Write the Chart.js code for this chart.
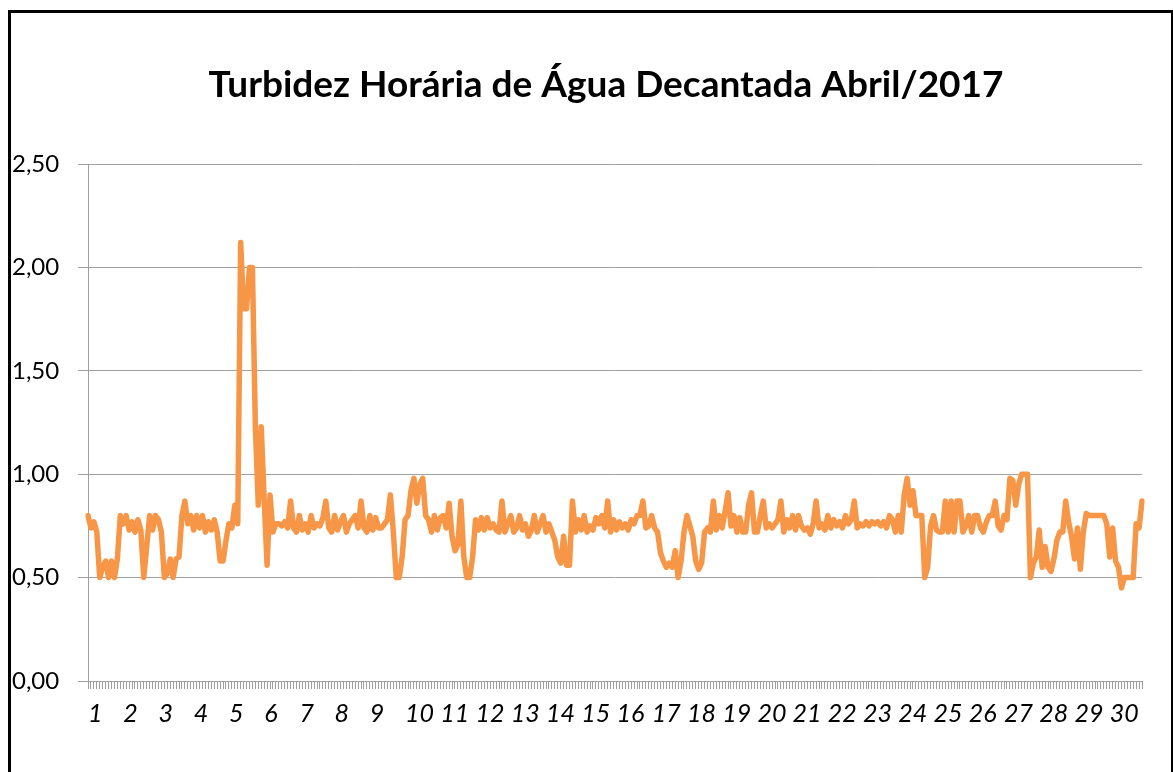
<!DOCTYPE html>
<html>
<head>
<meta charset="utf-8">
<title>Turbidez Horária de Água Decantada</title>
<script src="https://cdn.jsdelivr.net/npm/chart.js"></script>
<style>
html, body { margin: 0; padding: 0; background: #fff; }
#wrap { position: relative; width: 1173px; height: 772px; overflow: hidden; }
#frame { position: absolute; left: 8px; top: 10px; width: 1160px; height: 800px; border: 3px solid #000; pointer-events: none; }
canvas { position: absolute; left: 0; top: 0; }
</style>
</head>
<body>
<div id="wrap">
  <canvas id="chart" width="1173" height="772"></canvas>
  <div id="frame"></div>
</div>
<script>
// turbidez (NTU) a cada 2 horas, 12 leituras por dia
const day1  = [0.80,0.74,0.77,0.72,0.50,0.55,0.58,0.50,0.58,0.50,0.59,0.80];
const day2  = [0.76,0.80,0.73,0.77,0.72,0.78,0.73,0.50,0.65,0.80,0.73,0.80];
const day3  = [0.78,0.72,0.50,0.52,0.59,0.50,0.59,0.60,0.80,0.87,0.76,0.80];
const day4  = [0.73,0.80,0.74,0.80,0.72,0.77,0.73,0.78,0.72,0.58,0.58,0.68];
const day5  = [0.76,0.74,0.85,0.76,2.12,1.80,1.80,2.00,2.00,1.23,0.85,1.23];
const day6  = [0.88,0.56,0.90,0.72,0.76,0.76,0.75,0.77,0.74,0.87,0.74,0.72];
const day7  = [0.80,0.73,0.76,0.72,0.80,0.74,0.76,0.75,0.79,0.87,0.74,0.72];
const day8  = [0.80,0.73,0.77,0.80,0.72,0.76,0.78,0.80,0.74,0.87,0.74,0.72];
const day9  = [0.80,0.73,0.79,0.74,0.74,0.76,0.78,0.90,0.72,0.50,0.50,0.60];
const day10 = [0.78,0.80,0.92,0.98,0.86,0.95,0.98,0.80,0.78,0.72,0.80,0.73];
const day11 = [0.79,0.80,0.74,0.86,0.70,0.63,0.66,0.87,0.60,0.50,0.50,0.60];
const day12 = [0.78,0.73,0.79,0.73,0.79,0.74,0.76,0.73,0.72,0.87,0.72,0.76];
const day13 = [0.80,0.72,0.74,0.80,0.73,0.76,0.70,0.73,0.80,0.72,0.76,0.80];
const day14 = [0.72,0.76,0.72,0.68,0.60,0.57,0.70,0.56,0.56,0.87,0.72,0.78];
const day15 = [0.73,0.80,0.72,0.75,0.73,0.79,0.76,0.80,0.74,0.87,0.72,0.78];
const day16 = [0.73,0.77,0.74,0.76,0.73,0.78,0.76,0.80,0.80,0.87,0.74,0.75];
const day17 = [0.80,0.74,0.72,0.62,0.58,0.55,0.57,0.55,0.63,0.50,0.58,0.72];
const day18 = [0.80,0.75,0.70,0.58,0.54,0.57,0.72,0.74,0.72,0.87,0.73,0.80];
const day19 = [0.74,0.82,0.91,0.75,0.80,0.72,0.79,0.72,0.72,0.85,0.91,0.72];
const day20 = [0.72,0.80,0.87,0.74,0.76,0.74,0.76,0.78,0.87,0.72,0.78,0.74];
const day21 = [0.80,0.73,0.80,0.75,0.73,0.74,0.71,0.76,0.87,0.74,0.76,0.73];
const day22 = [0.80,0.74,0.78,0.75,0.77,0.74,0.80,0.76,0.78,0.87,0.74,0.76];
const day23 = [0.75,0.77,0.75,0.77,0.76,0.77,0.75,0.77,0.74,0.80,0.78,0.72];
const day24 = [0.80,0.72,0.90,0.98,0.85,0.92,0.80,0.80,0.80,0.50,0.55,0.75];
const day25 = [0.80,0.73,0.72,0.72,0.87,0.72,0.87,0.72,0.87,0.87,0.72,0.75];
const day26 = [0.80,0.72,0.80,0.80,0.74,0.72,0.77,0.80,0.80,0.87,0.75,0.73];
const day27 = [0.80,0.78,0.98,0.97,0.85,0.95,1.00,1.00,1.00,0.50,0.57,0.60];
const day28 = [0.73,0.55,0.65,0.55,0.53,0.59,0.68,0.72,0.72,0.87,0.77,0.70];
const day29 = [0.59,0.74,0.54,0.72,0.81,0.80,0.80,0.80,0.80,0.80,0.80,0.76];
const day30 = [0.60,0.74,0.58,0.55,0.45,0.50,0.50,0.50,0.50,0.76,0.74,0.87];

const days = [day1,day2,day3,day4,day5,day6,day7,day8,day9,day10,
              day11,day12,day13,day14,day15,day16,day17,day18,day19,day20,
              day21,day22,day23,day24,day25,day26,day27,day28,day29,day30];
const hours = ['00','02','04','06','08','10','12','14','16','18','20','22'];
const yTicks = [0, 0.5, 1, 1.5, 2, 2.5];
const titleText = 'Turbidez Horária de Água Decantada Abril/2017';

let labels = [];
let values = [];
days.forEach((d, i) => {
  d.forEach((v, h) => {
    labels.push((i + 1) + ' ' + hours[h] + 'h');
    values.push(v);
  });
});

const gridGray = '#a0a0a0';
const fontFamily = 'Lato, "Open Sans", sans-serif';
Chart.defaults.font.family = fontFamily;
Chart.defaults.color = '#000';

// the title sits centred on the whole chart object, which runs past the right edge
const offsetTitle = {
  id: 'offsetTitle',
  afterDraw(chart) {
    const c = chart.ctx;
    c.save();
    c.font = 'bold 37px ' + fontFamily;
    c.fillStyle = '#000';
    c.textAlign = 'center';
    c.textBaseline = 'alphabetic';
    c.fillText(titleText, 606, 97);
    c.restore();
  }
};

new Chart(document.getElementById('chart'), {
  type: 'line',
  data: {
    labels: labels,
    datasets: [{
      label: 'Turbidez',
      data: values,
      borderColor: '#F79646',
      borderWidth: 5.5,
      pointRadius: 0,
      tension: 0,
      borderJoinStyle: 'round',
      borderCapStyle: 'round'
    }]
  },
  plugins: [offsetTitle],
  options: {
    responsive: false,
    animation: false,
    layout: { padding: { left: 12, right: 31, top: 164, bottom: 0 } },
    plugins: {
      legend: { display: false },
      tooltip: { enabled: false },
      title: { display: false }
    },
    scales: {
      x: {
        type: 'category',
        offset: false,
        afterFit(scale) { scale.height = 91; },
        grid: { display: true, drawOnChartArea: false, drawTicks: true, tickLength: 8, color: gridGray },
        border: { display: true, color: gridGray, width: 1 },
        ticks: {
          autoSkip: false,
          maxRotation: 0,
          minRotation: 0,
          align: 'start',
          padding: 10,
          color: '#000',
          font: { size: 25, style: 'italic' },
          callback: (v, i) => (i % 12 === 0 ? String(i / 12 + 1) : '')
        }
      },
      y: {
        min: 0,
        max: 2.5,
        afterFit(scale) { scale.width = 76; },
        afterBuildTicks(scale) { scale.ticks = yTicks.map(v => ({ value: v })); },
        grid: { color: gridGray, tickLength: 10, drawTicks: true },
        border: { display: true, color: gridGray, width: 1 },
        ticks: {
          crossAlign: 'far',
          color: '#000',
          font: { size: 24 },
          callback: v => v.toFixed(2).replace('.', ',')
        }
      }
    }
  }
});
</script>
</body>
</html>
